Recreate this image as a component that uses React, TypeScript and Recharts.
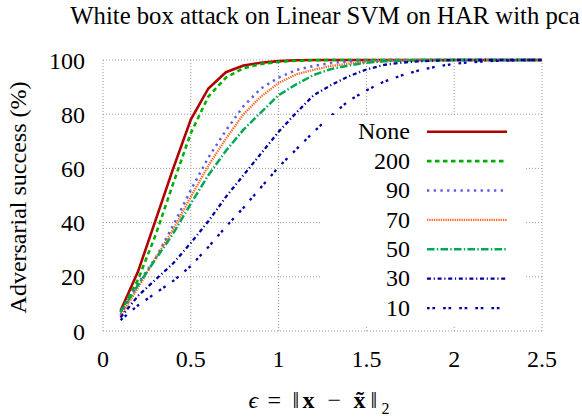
import { LineChart, Line, XAxis, YAxis, CartesianGrid } from 'recharts';

// epsilon values, 0.1 .. 2.5
const epsilons = [
  0.1, 0.2, 0.3, 0.4, 0.5, 0.6, 0.7, 0.8, 0.9, 1.0, 1.1, 1.2, 1.3,
  1.4, 1.5, 1.6, 1.7, 1.8, 1.9, 2.0, 2.1, 2.2, 2.3, 2.4, 2.5,
];

const noneSuccess = [7.5, 22, 41, 60, 78, 89.5, 95.5, 98, 99, 99.6, 99.9, 100, 100, 100, 100, 100, 100, 100, 100, 100, 100, 100, 100, 100, 100];
const pca200 = [7, 19, 35.5, 54.5, 73, 86.5, 93.5, 97, 98.5, 99.3, 99.7, 99.9, 100, 100, 100, 100, 100, 100, 100, 100, 100, 100, 100, 100, 100];
const pca90 = [6, 17.5, 27, 39, 52, 64, 74, 83, 89.5, 93.5, 96.3, 97.8, 98.9, 99.5, 99.8, 100, 100, 100, 100, 100, 100, 100, 100, 100, 100];
const pca70 = [5.5, 16, 27, 37.5, 49.5, 61, 71, 80, 86.5, 91.5, 94.7, 96.4, 97.8, 98.7, 99.3, 99.7, 99.9, 100, 100, 100, 100, 100, 100, 100, 100];
const pca50 = [7, 17, 26.5, 36, 47, 57.5, 66.5, 74.3, 80.7, 87, 91, 94.5, 96.7, 98, 99, 99.5, 99.8, 100, 100, 100, 100, 100, 100, 100, 100];
const pca30 = [5, 13, 19, 25, 32.5, 40.5, 49.5, 57.5, 65.5, 73.5, 80.5, 87, 90.8, 94, 96.5, 98.2, 99, 99.5, 99.8, 100, 100, 100, 100, 100, 100];
const pca10 = [4, 9.5, 14, 18.5, 24, 31, 38.5, 45.5, 53, 60.5, 67, 73.5, 79.5, 85, 88.8, 92, 94.3, 96.2, 97.6, 98.6, 99.2, 99.6, 99.8, 100, 100];

const xTicks = [0, 0.5, 1, 1.5, 2, 2.5];
const yTicks = [0, 20, 40, 60, 80, 100];

const series = [
  { key: 'none', name: 'None', color: '#b00000', dash: undefined, width: 2.6 },
  { key: 'p200', name: '200', color: '#00b000', dash: '4.5 3.5', width: 2.6 },
  { key: 'p90', name: '90', color: '#5c5ce6', dash: '2.3 4.4', width: 2.5 },
  { key: 'p70', name: '70', color: '#ff6420', dash: '1.3 1', width: 2.3 },
  { key: 'p50', name: '50', color: '#00a855', dash: '7.5 2.3 1.4 2.3', width: 2.5 },
  { key: 'p30', name: '30', color: '#0000a0', dash: '4 2.7 1.2 2.7', width: 2.3 },
  { key: 'p10', name: '10', color: '#0000aa', dash: '2.7 2.7 2.7 8', width: 2.3 },
];

const data = epsilons.map((x, i) => ({
  x,
  none: noneSuccess[i],
  p200: pca200[i],
  p90: pca90[i],
  p70: pca70[i],
  p50: pca50[i],
  p30: pca30[i],
  p10: pca10[i],
}));

const FONT = "'Liberation Serif', serif";
const txt = { fontFamily: FONT, fontSize: 24, fill: '#000' };

function LegendBox() {
  const rowH = 29.4;
  return (
    <svg width={203} height={210} style={{ background: '#fff', display: 'block', fontFamily: FONT }}>
      {series.map((s, i) => {
        const cy = 16.7 + i * rowH;
        return (
          <g key={s.key}>
            <text x={88} y={cy + 7.6} textAnchor="end" style={txt}>
              {s.name}
            </text>
            <line x1={105} x2={185} y1={cy} y2={cy} stroke={s.color} strokeWidth={s.width} strokeDasharray={s.dash} />
          </g>
        );
      })}
    </svg>
  );
}

// epsilon = ||x - x~||_2, laid out like the LaTeX original
function XLabel(props: any) {
  const vb = props.viewBox || { x: 0, y: 0, width: 0, height: 0 };
  const cx = vb.x + vb.width / 2;
  const y = vb.y + 76.5;
  return (
    <text y={y} style={txt}>
      <tspan x={cx - 74} fontStyle="italic">ϵ</tspan>
      <tspan x={cx - 55}>=</tspan>
      <tspan x={cx - 30}>‖</tspan>
      <tspan x={cx - 20} fontWeight="bold">x</tspan>
      <tspan x={cx + 5}>−</tspan>
      <tspan x={cx + 31} fontWeight="bold">x̃</tspan>
      <tspan x={cx + 48}>‖</tspan>
      <tspan x={cx + 59} dy={6} style={{ fontSize: 16 }}>2</tspan>
    </text>
  );
}

function YLabel(props: any) {
  const vb = props.viewBox || { x: 0, y: 0, width: 0, height: 0 };
  const x = vb.x + 26;
  const y = vb.y + vb.height / 2 + 2;
  return (
    <text x={x} y={y} textAnchor="middle" transform={`rotate(-90 ${x} ${y})`} style={txt}>
      Adversarial success (%)
    </text>
  );
}

export default function App() {
  return (
    <div style={{ position: 'fixed', left: 0, top: 0, width: 582, height: 418, background: '#fff', fontFamily: FONT }}>
      <div style={{ position: 'absolute', left: 60, top: 4, width: 530, textAlign: 'center', fontSize: 24.7, lineHeight: '24px', color: '#000', whiteSpace: 'nowrap' }}>
        White box attack on Linear SVM on HAR with pca
      </div>
      <LineChart width={582} height={418} data={data} margin={{ top: 60, right: 40, bottom: 0, left: 0 }} style={{ fontFamily: FONT }}>
        <CartesianGrid stroke="#999" strokeDasharray="1 2" strokeWidth={1} />
        <XAxis
          dataKey="x"
          type="number"
          domain={[0, 2.5]}
          ticks={xTicks}
          axisLine={false}
          tickLine={false}
          tickMargin={13}
          height={87}
          tick={{ fontSize: 24, fill: '#000', style: { fontFamily: FONT } }}
          label={<XLabel />}
        />
        <YAxis
          type="number"
          domain={[0, 100]}
          ticks={yTicks}
          axisLine={false}
          tickLine={false}
          tickMargin={12}
          width={103}
          tick={{ fontSize: 24, fill: '#000', style: { fontFamily: FONT } }}
          label={<YLabel />}
        />
        {series.map((s) => (
          <Line
            key={s.key}
            type="linear"
            dataKey={s.key}
            name={s.name}
            stroke={s.color}
            strokeWidth={s.width}
            strokeDasharray={s.dash}
            dot={false}
            isAnimationActive={false}
          />
        ))}
      </LineChart>
      <div style={{ position: 'absolute', left: 322, top: 115 }}>
        <LegendBox />
      </div>
    </div>
  );
}
